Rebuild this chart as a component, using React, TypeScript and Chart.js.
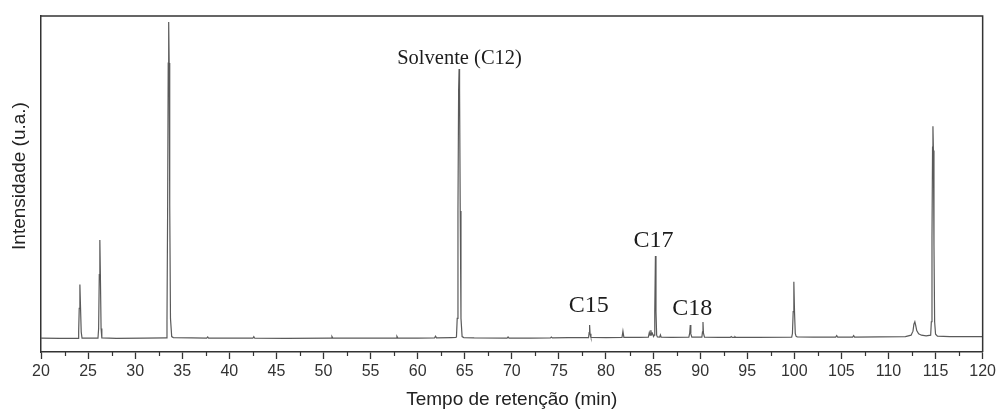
import React, { useEffect, useRef } from "react";
import { Chart, registerables } from "chart.js";

Chart.register(...registerables);

// ---- Data ----
const retentionTimes: number[] = [
  // start + peak ~24.1
  20, 22, 23.93, 24.0, 24.06, 24.13, 24.2, 24.27, 24.36,
  // peak ~26.25
  25.5, 26.05, 26.12, 26.19, 26.25, 26.31, 26.38, 26.46,
  // peak ~33.56
  28, 31, 33.3, 33.38, 33.45, 33.51, 33.56, 33.61, 33.67, 33.75, 33.88, 34.05,
  // small bumps 36-64
  36, 37.6, 37.7, 37.8, 40, 42.5, 42.6, 42.7, 46, 50.8, 50.9, 51.0, 54, 57.7, 57.8, 57.9, 60, 61.8, 61.9, 62.0, 63.6, 64.05,
  // solvent peak ~64.4
  64.12, 64.2, 64.28, 64.35, 64.4, 64.45, 64.52, 64.6, 64.72, 64.9,
  // 66-83.5 incl. C15
  66, 69.5, 69.6, 69.7, 72, 74.1, 74.2, 74.3, 76, 78.15, 78.21, 78.26, 78.31, 78.4, 80, 81.7, 81.8, 81.9, 83.5,
  // cluster + C17
  84.5, 84.6, 84.68, 84.76, 84.84, 84.92, 85.05, 85.12, 85.18, 85.25, 85.31, 85.38, 85.46, 85.7, 85.78, 85.86, 87,
  // C18 region
  88.8, 88.89, 88.95, 89.01, 89.12, 90.18, 90.25, 90.3, 90.35, 90.46,
  // 92-100
  92, 93.2, 93.3, 93.4, 93.6, 93.7, 93.8, 96, 99.72, 99.8, 99.88, 99.95, 100.02, 100.1, 100.18, 100.3,
  // 102-120
  102, 104.4, 104.5, 104.6, 106.2, 106.3, 106.4, 109, 111.8, 112.4, 112.6, 112.7, 112.8, 112.9, 113.0, 113.2, 113.5, 114.0,
  114.48, 114.55, 114.62, 114.68, 114.72, 114.77, 114.83, 114.9, 115.0, 115.2, 116.5, 120,
];

const intensities: number[] = [
  0.1, 0.05, 0.05, 2, 9, 16.1, 9, 2, 0.1,
  0.1, 0.1, 3, 19, 29.3, 18, 3, 0.2,
  0.05, 0.1, 0.2, 5, 40, 82, 94.2, 82, 40, 6, 0.6, 0.3,
  0.2, 0.15, 0.5, 0.15, 0.1, 0.1, 0.55, 0.1, 0.05, 0.1, 0.6, 0.1, 0.1, 0.15, 0.65, 0.15, 0.15, 0.2, 0.7, 0.2, 0.3, 0.35,
  0.5, 6, 38, 74, 80.2, 74, 38, 6, 0.6, 0.3,
  0.2, 0.15, 0.5, 0.15, 0.15, 0.2, 0.45, 0.2, 0.25, 0.3, 1.8, 4.0, 1.4, 0.35, 0.3, 0.35, 2.2, 0.35, 0.35,
  0.4, 1.8, 1.0, 2.5, 1.2, 1.6, 0.6, 1, 8, 24.6, 8, 1, 0.45, 0.4, 1.1, 0.4, 0.35,
  0.4, 1.6, 4.0, 1.4, 0.4, 0.4, 2.0, 4.9, 1.6, 0.4,
  0.35, 0.35, 0.6, 0.35, 0.35, 0.55, 0.35, 0.35, 0.45, 1.5, 8, 16.9, 8, 1.5, 0.7, 0.5,
  0.4, 0.45, 0.9, 0.45, 0.45, 0.9, 0.45, 0.5, 0.6, 1.0, 2.2, 4.3, 5.0, 3.8, 2.4, 1.4, 1.0, 0.8,
  1.0, 5, 30, 57, 63.2, 56, 28, 5, 1.3, 0.7, 0.6, 0.6,
];

const xMin = 20;
const xMax = 120;
const xStep = 5;
const yMin = -4;
const yMax = 96;

const xTitle = "Tempo de retenção (min)";
const yTitle = "Intensidade (u.a.)";

const annotationTexts = ["Solvente (C12)", "C15", "C17", "C18"];
const annotationX = [64.45, 78.16, 85.04, 89.17];
const annotationY = [81.8, 7.9, 27.2, 7.0];
const annotationSizes = [20.5, 24, 24, 24];

const SANS = '"Liberation Sans", Arial, sans-serif';
const SERIF = '"Liberation Serif", "Times New Roman", serif';

const extrasPlugin = {
  id: "extras",
  afterDraw(chart: any) {
    const { ctx, chartArea } = chart;
    const { left, right, top, bottom } = chartArea;
    const xs = chart.scales.x;
    const ys = chart.scales.y;
    ctx.save();
    // top & right frame
    ctx.strokeStyle = "#333";
    ctx.lineWidth = 1.5;
    ctx.beginPath();
    ctx.moveTo(left, top);
    ctx.lineTo(right, top);
    ctx.lineTo(right, bottom);
    ctx.stroke();
    // minor ticks (midway between major ticks)
    ctx.lineWidth = 1.2;
    const ticks = xs.ticks;
    ctx.beginPath();
    for (let i = 0; i < ticks.length - 1; i++) {
      const v = (ticks[i].value + ticks[i + 1].value) / 2;
      const px = Math.round(xs.getPixelForValue(v)) + 0.5;
      ctx.moveTo(px, bottom);
      ctx.lineTo(px, bottom + 4);
    }
    ctx.stroke();
    // annotations
    ctx.fillStyle = "#1c1c1c";
    ctx.textAlign = "center";
    ctx.textBaseline = "alphabetic";
    for (let i = 0; i < annotationTexts.length; i++) {
      ctx.font = `${annotationSizes[i]}px ${SERIF}`;
      ctx.fillText(
        annotationTexts[i],
        xs.getPixelForValue(annotationX[i]),
        ys.getPixelForValue(annotationY[i])
      );
    }
    // y title
    ctx.fillStyle = "#222";
    ctx.font = `19px ${SANS}`;
    ctx.textBaseline = "middle";
    ctx.translate(20, (top + bottom) / 2 - 8);
    ctx.rotate(-Math.PI / 2);
    ctx.fillText(yTitle, 0, 0);
    ctx.restore();
  },
};

export default function App() {
  const canvasRef = useRef<HTMLCanvasElement | null>(null);

  useEffect(() => {
    if (!canvasRef.current) return;
    const points = retentionTimes.map((t, i) => ({ x: t, y: intensities[i] }));
    const chart = new Chart(canvasRef.current, {
      type: "line",
      data: {
        datasets: [
          {
            data: points,
            borderColor: "#5a5a5a",
            borderWidth: 1.2,
            pointRadius: 0,
            tension: 0,
            fill: false,
          },
        ],
      },
      options: {
        animation: false,
        responsive: false,
        devicePixelRatio: 1,
        layout: { padding: { top: 16, right: 13, left: 0, bottom: 0 } },
        plugins: { legend: { display: false }, tooltip: { enabled: false } },
        scales: {
          x: {
            type: "linear",
            min: xMin,
            max: xMax,
            afterFit: (s: any) => {
              s.height = 59;
            },
            border: { display: true, color: "#333", width: 1.5 },
            grid: {
              display: true,
              drawOnChartArea: false,
              drawTicks: true,
              tickLength: 7,
              tickColor: "#333",
              tickWidth: 1.3,
            },
            ticks: {
              stepSize: xStep,
              autoSkip: false,
              maxRotation: 0,
              padding: 3,
              color: "#333",
              font: { family: SANS, size: 16 },
            },
            title: {
              display: true,
              text: xTitle,
              color: "#222",
              font: { family: SANS, size: 19 },
              padding: { top: 0, bottom: 0 },
            },
          },
          y: {
            type: "linear",
            min: yMin,
            max: yMax,
            afterFit: (s: any) => {
              s.width = 41;
            },
            border: { display: true, color: "#333", width: 1.5 },
            grid: { display: false },
            ticks: { display: false },
            title: { display: false },
          },
        },
      },
      plugins: [extrasPlugin],
    });
    return () => chart.destroy();
  }, []);

  return (
    <div
      style={{
        position: "fixed",
        left: 0,
        top: 0,
        width: 999,
        height: 411,
        background: "#fff",
      }}
    >
      <canvas ref={canvasRef} width={999} height={411} style={{ display: "block" }} />
    </div>
  );
}
